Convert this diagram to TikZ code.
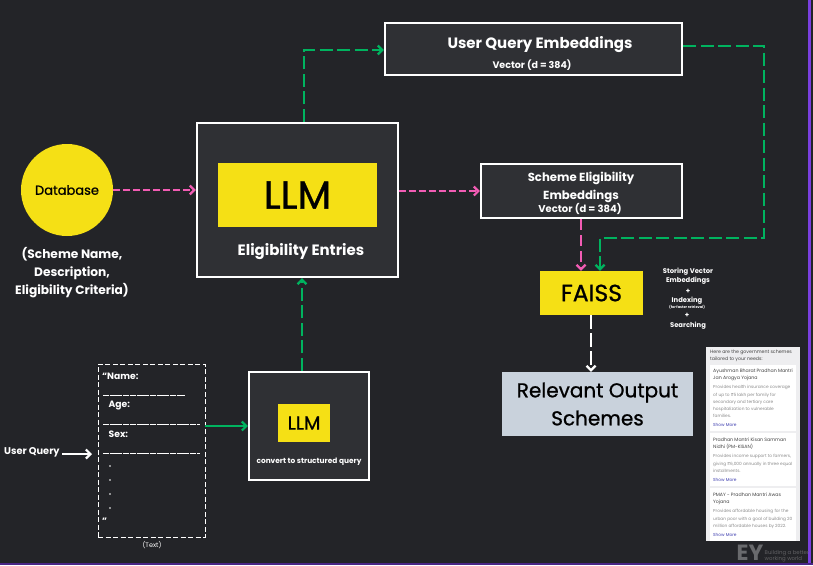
\documentclass[tikz,border=0pt]{standalone}
\usepackage{fontspec}
\setmainfont{Poppins}
\newfontfamily\medf[FakeBold=0.9]{Poppins}
\usetikzlibrary{arrows.meta}
\definecolor{bg}{HTML}{232428}
\definecolor{boxc}{HTML}{2F3034}
\definecolor{yel}{HTML}{F5E015}
\definecolor{pinkc}{HTML}{F25CB4}
\definecolor{greenc}{HTML}{00B35F}
\definecolor{slate}{HTML}{C9D2DC}
\definecolor{purp}{HTML}{7A3FE0}
\definecolor{cardg}{HTML}{8C8C8C}
\definecolor{cardt}{HTML}{444444}
\definecolor{linkc}{HTML}{3F3FB0}
\definecolor{cardbg}{HTML}{EEEEF0}
\tikzset{
 px/.style={x=1pt,y=-1pt},
 darkbox/.style={draw=white,line width=2.3pt,fill=boxc,inner sep=0pt},
 yelbox/.style={fill=yel,inner sep=0pt,text=black},
 lab/.style={text=white,align=center,inner sep=0pt,font=\bfseries},
 tip/.style={-{Straight Barb[length=4.5pt,width=9pt,line width=2.2pt]}},
 pinkarrow/.style={draw=pinkc,line width=2.4pt,dash pattern=on 11pt off 5pt,tip},
 pinkshort/.style={draw=pinkc,line width=2.4pt,dash pattern=on 7pt off 3pt,tip},
 greenarrow/.style={draw=greenc,line width=2.4pt,dash pattern=on 13pt off 4.5pt,tip},
 solidgreen/.style={draw=greenc,line width=2.4pt,tip},
 whitearrow/.style={draw=white,line width=2.4pt,tip},
 whitedash/.style={draw=white,line width=2.4pt,dash pattern=on 14pt off 4pt,tip},
 formline/.style={draw=white,line width=0.9pt,dash pattern=on 6pt off 0.7pt},
 cardbox/.style={fill=cardbg,inner sep=0pt},
 ct/.style={anchor=north west,inner sep=0pt,align=left,text=cardt,font=\fontsize{4.7}{7.5}\selectfont},
 cg/.style={anchor=north west,inner sep=0pt,align=left,text=cardg,font=\fontsize{4.3}{7.2}\selectfont},
 cl/.style={anchor=north west,inner sep=0pt,text=linkc,font=\fontsize{4.3}{5}\selectfont},
}
\begin{document}
\begin{tikzpicture}[px]
\path[use as bounding box,fill=bg] (0,0) rectangle (813,565);
\fill[purp] (808,0) rectangle (810.5,565);
\fill[purp!60!black] (0,563) rectangle (813,565);

% main boxes
\node[darkbox,minimum width=201pt,minimum height=154pt] (outer) at (297.5,200) {};
\node[yelbox,minimum width=159pt,minimum height=64pt,font=\medf\fontsize{39}{42}\selectfont] (llm) at (297.5,195) {LLM};
\node[lab,font=\bfseries\fontsize{15}{17}\selectfont] (elig) at (301,252) {Eligibility Entries};
\node[circle,fill=yel,minimum size=92pt,inner sep=0pt,text=black,font=\medf\fontsize{13}{15}\selectfont] (db) at (67,190) {Database};
\node[lab,font=\bfseries\fontsize{12.2}{18}\selectfont] (dbt) at (72,273) {(Scheme Name,\\Description,\\Eligibility Criteria)};
\node[darkbox,minimum width=297pt,minimum height=52pt] (uq) at (533.5,49) {};
\node[lab,font=\bfseries\fontsize{15}{17}\selectfont] (uqt) at (540,44.5) {User Query Embeddings};
\node[lab,font=\bfseries\fontsize{9.5}{11}\selectfont] (uqv) at (532,65.5) {Vector (d = 384)};
\node[darkbox,minimum width=201pt,minimum height=54pt] (se) at (581.5,191) {};
\node[lab,font=\bfseries\fontsize{11.7}{17.5}\selectfont] (set) at (581,187.5) {Scheme Eligibility\\Embeddings};
\node[lab,font=\bfseries\fontsize{10}{11}\selectfont] (sev) at (580,209) {Vector (d = 384)};
\node[yelbox,minimum width=103pt,minimum height=44pt,font=\medf\fontsize{23.5}{26}\selectfont] (faiss) at (591.5,293) {FAISS};
\node[lab,font=\bfseries\fontsize{6.8}{9.4}\selectfont] (sv) at (688,276.5) {Storing Vector\\Embeddings};
\node[lab,font=\bfseries\fontsize{7}{8}\selectfont] (p1) at (688,291) {+};
\node[lab,font=\bfseries\fontsize{6.8}{8}\selectfont] (ix) at (687,300.5) {Indexing};
\node[lab,font=\bfseries\fontsize{3.5}{4}\selectfont] (ff) at (687,307.5) {(for faster retrieval)};
\node[lab,font=\bfseries\fontsize{7}{8}\selectfont] (p2) at (687,315.5) {+};
\node[lab,font=\bfseries\fontsize{6.8}{8}\selectfont] (sr) at (688,325.5) {Searching};
\node[fill=slate,minimum width=191pt,minimum height=64pt,inner sep=0pt,align=center,text=black,font=\medf\fontsize{20}{28}\selectfont] (rel) at (597.5,404) {Relevant Output\\Schemes};

% structured query box
\node[darkbox,minimum width=120pt,minimum height=108pt] (sq) at (309,426) {};
\node[yelbox,minimum width=52pt,minimum height=38pt,font=\medf\fontsize{19}{21}\selectfont] (llm2) at (304,423) {LLM};
\node[lab,font=\bfseries\fontsize{7.4}{9}\selectfont] (cv) at (309,461.5) {convert to structured query};

% text form
\node[draw=white,line width=0.9pt,dash pattern=on 5pt off 2.5pt,minimum width=107pt,minimum height=173pt,inner sep=0pt] (form) at (151.5,450.5) {};
\node[lab,anchor=west,font=\bfseries\fontsize{9.2}{11}\selectfont] (n1) at (102,376.5) {``Name:};
\draw[formline] (103,395.5) -- (185,395.5);
\node[lab,anchor=west,font=\bfseries\fontsize{9.2}{11}\selectfont] (n2) at (108.5,405.5) {Age:};
\draw[formline] (103,424.5) -- (200,424.5);
\node[lab,anchor=west,font=\bfseries\fontsize{9.2}{11}\selectfont] (n3) at (108.5,434.5) {Sex:};
\draw[formline] (103,453.5) -- (200,453.5);
\foreach \yy in {466,480,494,508} \fill[white] (110,\yy) circle (0.9pt);
\node[lab,anchor=west,font=\bfseries\fontsize{9.2}{11}\selectfont] (n4) at (102,521) {''};
\node[lab,font=\fontsize{6.5}{8}\selectfont] (tx) at (152,545) {(Text)};
\node[lab,anchor=west,font=\bfseries\fontsize{9.8}{11}\selectfont] (uq0) at (4,452.5) {User Query};
\coordinate (uqin) at (92,454);

% connectors
\draw[pinkshort] (db.east) -- (outer.west |- db.east);
\draw[pinkshort] (outer.east |- se.west) -- (se.west);
\coordinate (a1) at (304,50);
\draw[greenarrow] (outer.north -| a1) -- (a1) -- (uq.west |- a1);
\coordinate (b1) at (764,46);
\coordinate (b2) at (764,238);
\coordinate (b3) at (600,238);
\draw[greenarrow] (uq.east |- b1) -- (b1) -- (b2) -- (b3) -- (faiss.north -| b3);
\coordinate (c1) at (581,218);
\draw[pinkarrow] (se.south -| c1) -- (faiss.north -| c1);
\coordinate (d1) at (591,372);
\draw[whitedash] (faiss.south -| d1) -- (rel.north -| d1);
\coordinate (e1) at (302,300);
\draw[greenarrow] (sq.north -| e1) -- (outer.south -| e1);
\coordinate (f1) at (206,426);
\draw[solidgreen] (form.east |- f1) -- (sq.west |- f1);
\coordinate (g0) at (62,454);
\draw[whitearrow] (g0) -- (uqin);

% results card
\node[cardbox,minimum width=94pt,minimum height=193.5pt] (card) at (753,444) {};
\fill[white] (710,365) rectangle (796,431);
\fill[white] (710,433) rectangle (796,486);
\fill[white] (710,488) rectangle (796,540.5);
\node[ct] (h) at (710,349.5) {Here are the government schemes\\tailored to your needs:};
\node[ct] (c1t) at (713,368.5) {Ayushman Bharat Pradhan Mantri\\Jan Arogya Yojana};
\node[cg] (c1b) at (713,385.5) {Provides health insurance coverage\\of up to ₹5 lakh per family for\\secondary and tertiary care\\hospitalization to vulnerable\\families.};
\node[cl] (c1l) at (713,423) {Show More};
\node[ct] (c2t) at (713,437.5) {Pradhan Mantri Kisan Samman\\Nidhi (PM-KISAN)};
\node[cg] (c2b) at (713,454.5) {Provides income support to farmers,\\giving ₹6,000 annually in three equal\\installments.};
\node[cl] (c2l) at (713,478) {Show More};
\node[ct] (c3t) at (713,492.5) {PMAY - Pradhan Mantri Awas\\Yojana};
\node[cg] (c3b) at (713,509.5) {Provides affordable housing for the\\urban poor with a goal of building 20\\million affordable houses by 2022.};
\node[cl] (c3l) at (713,533.5) {Show More};

% watermark
\node[inner sep=0pt,anchor=base,text=white!32!bg,font=\bfseries\fontsize{22}{22}\selectfont] (ey) at (750,560) {EY};
\node[anchor=west,inner sep=0pt,align=left,text=white!28!bg,font=\fontsize{5.4}{5.8}\selectfont] (wm) at (764.5,556) {Building a better\\working world};
\end{tikzpicture}
\end{document}
